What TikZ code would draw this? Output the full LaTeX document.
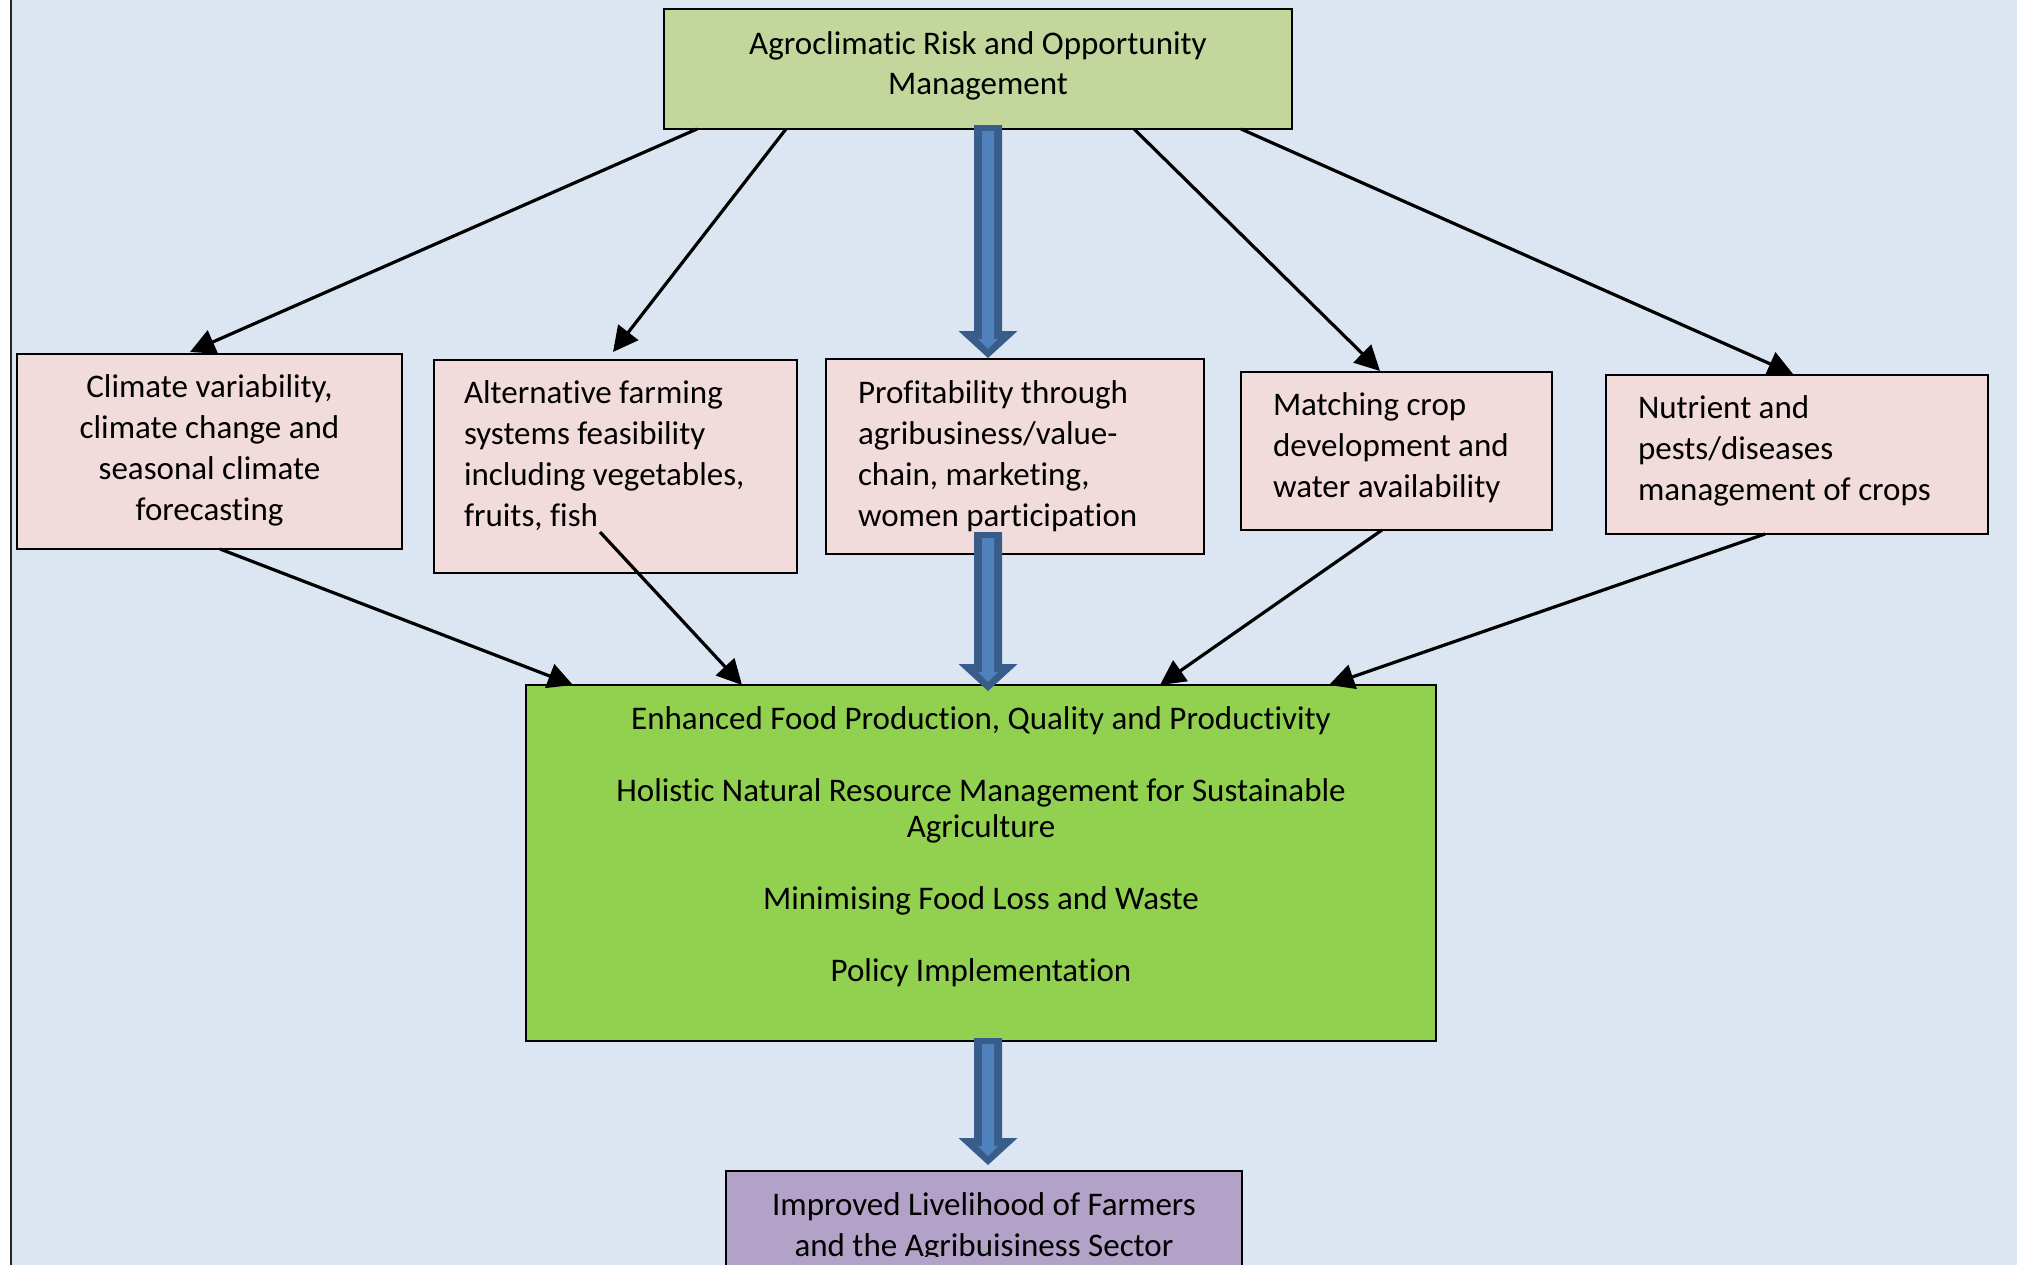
\documentclass[tikz,border=0pt]{standalone}
\usepackage{fontspec}
\setmainfont[Ligatures=NoCommon]{Carlito}
\usetikzlibrary{calc,arrows.meta}
\definecolor{bgblue}{HTML}{DCE6F2}
\definecolor{topgreen}{HTML}{C3D69B}
\definecolor{pinkbox}{HTML}{F2DCDB}
\definecolor{biggreen}{HTML}{92D050}
\definecolor{purplebox}{HTML}{B3A2C7}
\definecolor{arrdark}{HTML}{385D8A}
\definecolor{arrlight}{HTML}{4F81BD}
\newcommand\blockarr[2]{%
  \path #1 coordinate (ba-s) #2 coordinate (ba-e);
  \fill[arrdark] let \p1=(ba-s), \p2=(ba-e) in
    (\x1-14pt,\y1) -- (\x1+14pt,\y1) -- (\x1+14pt,\y2+27pt) -- (\x1+29.5pt,\y2+27pt)
    -- (\x1,\y2) -- (\x1-29.5pt,\y2+27pt) -- (\x1-14pt,\y2+27pt) -- cycle;
  \fill[arrlight] let \p1=(ba-s), \p2=(ba-e) in
    (\x1-6pt,\y1-6pt) -- (\x1+6pt,\y1-6pt) -- (\x1+6pt,\y2+19pt) -- (\x1+10pt,\y2+19pt)
    -- (\x1,\y2+9pt) -- (\x1-10pt,\y2+19pt) -- (\x1-6pt,\y2+19pt) -- cycle;
}
\begin{document}
\begin{tikzpicture}[x=1pt,y=-1pt,
  box/.style={draw=black, line width=1.6pt, inner sep=0pt, outer sep=0pt, anchor=north west},
  txt/.style={inner sep=0pt, outer sep=0pt, text=black, font=\fontsize{33}{41}\selectfont},
  conn/.style={draw=black, line width=3.2pt, -{Triangle[length=25pt,width=25pt]}}]
\useasboundingbox (0,0) rectangle (2017,1264);
\clip (0,0) rectangle (2017,1264);
\fill[white] (0,0) rectangle (2017,1264);
\fill[bgblue] (11,-10) rectangle (2030,1280);
\draw[line width=2pt, black!85] (11,-10) -- (11,1280);

% boxes
\node[box, fill=topgreen, minimum width=628pt, minimum height=120pt] (top) at (664,9) {};
\node[box, fill=pinkbox, minimum width=385pt, minimum height=195pt] (b1) at (17,354) {};
\node[box, fill=pinkbox, minimum width=363pt, minimum height=213pt] (b2) at (434,360) {};
\node[box, fill=pinkbox, minimum width=378pt, minimum height=195pt] (b3) at (826,359) {};
\node[box, fill=pinkbox, minimum width=311pt, minimum height=158pt] (b4) at (1241,372) {};
\node[box, fill=pinkbox, minimum width=382pt, minimum height=159pt] (b5) at (1606,375) {};
\node[box, fill=biggreen, minimum width=910pt, minimum height=356pt] (big) at (526,685) {};
\node[box, fill=purplebox, minimum width=516pt, minimum height=150pt] (pur) at (726,1171) {};

% texts
\node[txt, font=\fontsize{33}{40}\selectfont, align=center, anchor=north] (ttop) at (978,26.2)
  {\strut Agroclimatic Risk and Opportunity\\Management};
\node[txt, align=center, anchor=north] (t1) at (209.5,368.8)
  {\strut Climate variability,\\climate change and\\seasonal climate\\forecasting};
\node[txt, align=left, anchor=north west] (t2) at (464,374.8)
  {\strut Alternative farming\\systems feasibility\\including vegetables,\\fruits, fish};
\node[txt, align=left, anchor=north west] (t3) at (858,374.8)
  {\strut Profitability through\\agribusiness/value-\\chain, marketing,\\women participation};
\node[txt, align=left, anchor=north west] (t4) at (1273,386.8)
  {\strut Matching crop\\development and\\water availability};
\node[txt, align=left, anchor=north west] (t5) at (1638,389.8)
  {\strut Nutrient and\\pests/diseases\\management of crops};
\node[txt, font=\fontsize{33}{36}\selectfont, align=center, anchor=north] (tbig) at (981,704.3)
  {\strut Enhanced Food Production, Quality and Productivity\\[36pt]Holistic Natural Resource Management for Sustainable\\Agriculture\\[36pt]Minimising Food Loss and Waste\\[36pt]Policy Implementation};
\begin{scope}
\clip (0,0) rectangle (2017,1256);
\node[txt, align=center, anchor=north] (tpur) at (984,1186.8)
  {\strut Improved Livelihood of Farmers\\and the Agribuisiness Sector};
\end{scope}

% black connectors
\draw[conn] ($(top.south west)+(33,0)$) -- ($(b1.north west)+(173,-2)$);
\draw[conn] ($(top.south west)+(122,0)$) -- ($(b2.north west)+(179,-8)$);
\draw[conn] ($(top.south west)+(470,0)$) -- ($(b4.north west)+(139,-1)$);
\draw[conn] ($(top.south west)+(577,0)$) -- ($(b5.north west)+(187,-1)$);
\draw[conn] ($(b1.south west)+(203,0)$) -- ($(big.north west)+(47,0)$);
\draw[conn] ($(b2.north west)+(166,172)$) -- ($(big.north west)+(216,0)$);
\draw[conn] ($(b4.south west)+(141,0)$) -- ($(big.north west)+(634,0)$);
\draw[conn] ($(b5.south west)+(159,0)$) -- ($(big.north west)+(803,0)$);

% block arrows
\blockarr{($(top.south west)+(324,-4)$)}{($(b3.north west)+(162,-1)$)}
\blockarr{($(b3.south west)+(162,-22)$)}{($(big.north west)+(462,6)$)}
\blockarr{($(big.south west)+(462,-3)$)}{($(pur.north west)+(262,-6)$)}
\end{tikzpicture}
\end{document}
